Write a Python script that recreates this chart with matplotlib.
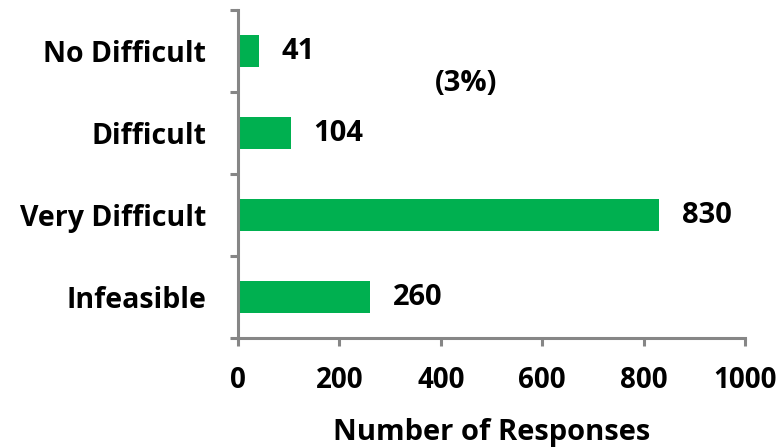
import matplotlib
matplotlib.use("Agg")
import matplotlib.pyplot as plt
from matplotlib.ticker import FixedLocator, NullFormatter

plt.rcParams['font.family'] = ['Open Sans', 'DejaVu Sans']
plt.rcParams['font.weight'] = 'bold'

# data
categories = ['Infeasible', 'Very Difficult', 'Difficult', 'No Difficult']
responses = [260, 830, 104, 41]
xticks = [0, 200, 400, 600, 800, 1000]
note = '(3%)'

green = '#00B050'
grey = '#868686'
fs = 20.5

fig = plt.figure(figsize=(7.84, 4.47), dpi=100)
ax = fig.add_axes([0.3036, 0.2438, 0.6467, 0.7338])

pos = list(range(len(categories)))
bars = ax.barh(pos, responses, height=0.4, color=green)
for p, v in zip(pos, responses):
    ax.annotate(str(v), xy=(v, p), xytext=(16.5, 0), textcoords='offset points',
                va='center', ha='left', fontsize=21, fontweight='bold')

ax.text(450, 2.60, note, ha='center', va='center', fontsize=21, fontweight='bold')

ax.set_xlim(0, 1000)
ax.set_ylim(-0.5, len(categories) - 0.5)

# spines
for s in ['top', 'right']:
    ax.spines[s].set_visible(False)
for s in ['left', 'bottom']:
    ax.spines[s].set_color(grey)
    ax.spines[s].set_linewidth(2.2)

# x axis ticks
ax.set_xticks(xticks)
ax.tick_params(axis='x', direction='out', length=6, width=2.2, color=grey,
               pad=14, labelsize=20)

# y axis: tick marks on band edges, labels on band centres
ax.yaxis.set_major_locator(FixedLocator([i - 0.5 for i in range(len(categories) + 1)]))
ax.yaxis.set_major_formatter(NullFormatter())
ax.set_yticks(pos, minor=True)
ax.set_yticklabels(categories, minor=True)
ax.tick_params(axis='y', which='major', direction='out', length=6, width=2.2, color=grey)
ax.tick_params(axis='y', which='minor', length=0, pad=23, labelsize=fs)

ax.set_xlabel('Number of Responses', fontsize=21, fontweight='bold', labelpad=17)

fig.savefig('out.png', dpi=100)
